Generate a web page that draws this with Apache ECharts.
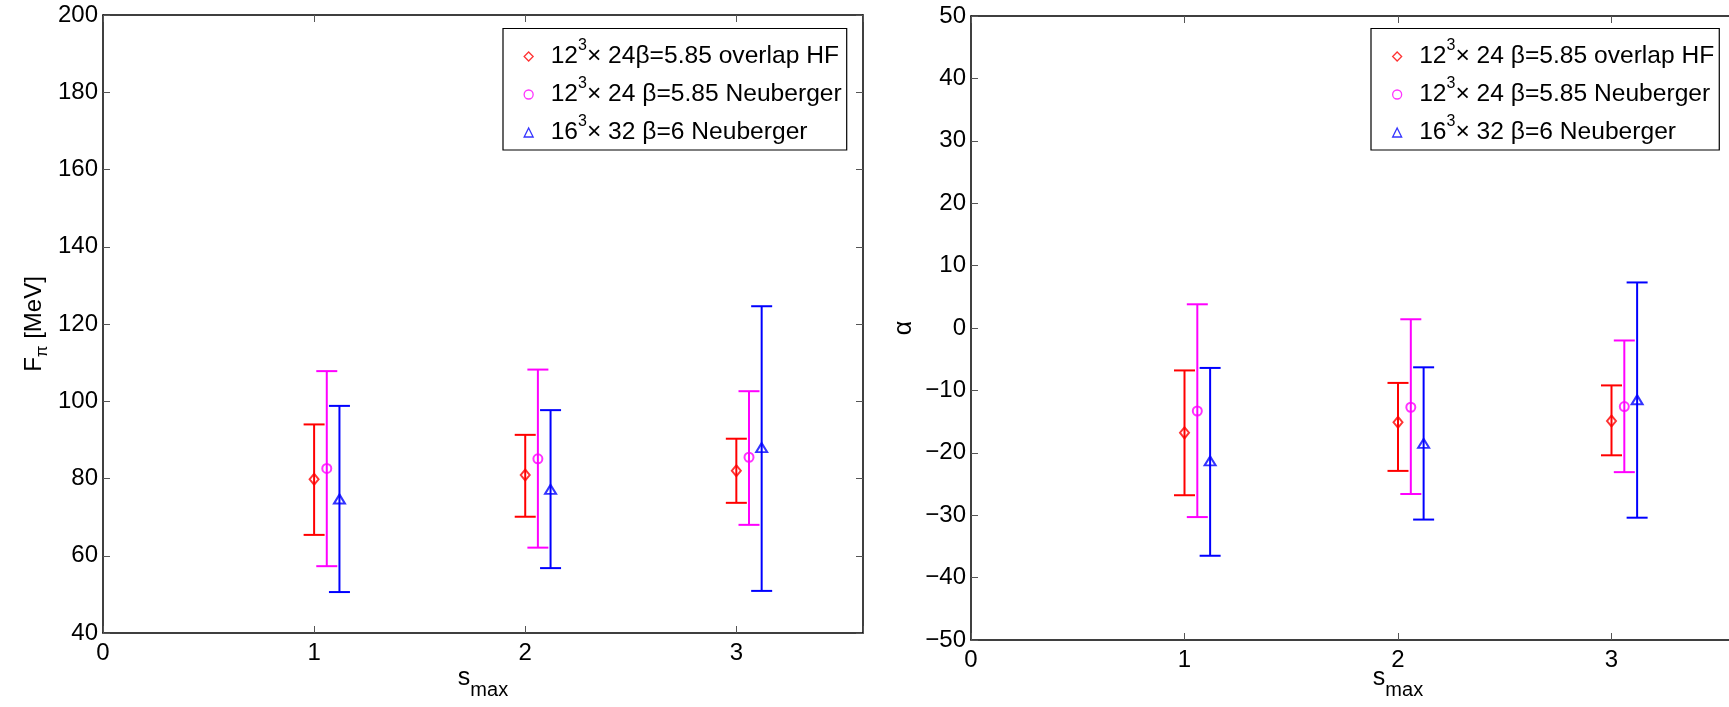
<!DOCTYPE html>
<html>
<head>
<meta charset="utf-8">
<script src="https://cdn.jsdelivr.net/npm/echarts@6/dist/echarts.min.js"></script>
<style>
html,body{margin:0;padding:0;background:#fff;overflow:hidden;width:1729px;height:707px}
#c{width:1830px;height:707px}
</style>
</head>
<body>
<div id="c"></div>
<script>
// ---------- data ----------
const xOverlapHF   = [1, 2, 3];
const xNeuberger12 = [1.06, 2.06, 3.06];
const xNeuberger16 = [1.12, 2.12, 3.12];

// F_pi [MeV]
const fpiOverlapHF      = [79.8, 80.9, 82.0];
const fpiOverlapHFLow   = [65.4, 70.1, 73.7];
const fpiOverlapHFHigh  = [94.0, 91.3, 90.3];
const fpiNeu12          = [82.6, 85.1, 85.5];
const fpiNeu12Low       = [57.3, 62.1, 68.0];
const fpiNeu12High      = [107.8, 108.2, 102.6];
const fpiNeu16          = [74.7, 77.2, 88.0];
const fpiNeu16Low       = [50.6, 56.8, 50.9];
const fpiNeu16High      = [98.8, 97.7, 124.6];

// alpha
const alphaOverlapHF     = [-16.8, -15.1, -14.9];
const alphaOverlapHFLow  = [-26.8, -22.9, -20.4];
const alphaOverlapHFHigh = [-6.8, -8.8, -9.2];
const alphaNeu12         = [-13.3, -12.7, -12.6];
const alphaNeu12Low      = [-30.3, -26.6, -23.1];
const alphaNeu12High     = [3.8, 1.4, -2.0];
const alphaNeu16         = [-21.3, -18.5, -11.5];
const alphaNeu16Low      = [-36.5, -30.7, -30.4];
const alphaNeu16High     = [-6.4, -6.3, 7.3];

// axes
const leftX  = {min: 0, max: 3.6, interval: 1};
const leftY  = {min: 40, max: 200, interval: 20};
const rightX = {min: 0, max: 4, interval: 1};
const rightY = {min: -50, max: 50, interval: 10};

// legend labels (rich text markup)
const legendLeft = {
  L0: '{g| }{n|12}{sup|3}{n|\u00d7 24\u03b2=5.85 overlap HF}',
  L1: '{g| }{n|12}{sup|3}{n|\u00d7 24 \u03b2=5.85 Neuberger}',
  L2: '{g| }{n|16}{sup|3}{n|\u00d7 32 \u03b2=6 Neuberger}'
};
const legendRight = {
  R0: '{g| }{n|12}{sup|3}{n|\u00d7 24 \u03b2=5.85 overlap HF}',
  R1: '{g| }{n|12}{sup|3}{n|\u00d7 24 \u03b2=5.85 Neuberger}',
  R2: '{g| }{n|16}{sup|3}{n|\u00d7 32 \u03b2=6 Neuberger}'
};

// ---------- styling ----------
const FONT = 'Liberation Sans, Arial, Helvetica, sans-serif';
const RED = '#ff0000', MAG = '#ff00ff', BLUE = '#0000ff';
const LW = 2, CAP = 10.5;

function errSeries(xs, v, lo, hi, color, xi, yi) {
  return {
    type: 'custom', xAxisIndex: xi, yAxisIndex: yi, z: 2, silent: true,
    data: xs.map((x, i) => [x, v[i], lo[i], hi[i]]),
    encode: {x: 0, y: [2, 3]},
    renderItem(params, api) {
      const x = api.value(0);
      const a = api.coord([x, api.value(2)]);
      const b = api.coord([x, api.value(3)]);
      const st = {stroke: color, lineWidth: LW};
      return {type: 'group', children: [
        {type: 'line', shape: {x1: a[0], y1: a[1], x2: b[0], y2: b[1]}, style: st},
        {type: 'line', shape: {x1: a[0] - CAP, y1: a[1], x2: a[0] + CAP, y2: a[1]}, style: st},
        {type: 'line', shape: {x1: b[0] - CAP, y1: b[1], x2: b[0] + CAP, y2: b[1]}, style: st}
      ]};
    }
  };
}
function markSeries(name, xs, v, color, symbol, size, xi, yi) {
  return {
    type: 'scatter', name, xAxisIndex: xi, yAxisIndex: yi, z: 3,
    symbol, symbolSize: size,
    data: xs.map((x, i) => [x, v[i]]),
    itemStyle: {color: 'rgba(0,0,0,0)', borderColor: color, borderWidth: 2},
    emphasis: {disabled: true}
  };
}

const minus = v => String(v).replace('-', '\u2212');
const intOnly = v => (Math.abs(v - Math.round(v)) < 1e-9 ? String(v) : '');

const AXLINE = {show: true, onZero: false, lineStyle: {color: '#000', width: 1.5}};
const AXTICK = {show: true, inside: true, length: 7, lineStyle: {color: '#555', width: 1}};

const smaxRich = {
  b: {fontSize: 25, fontFamily: FONT, color: '#000', lineHeight: 44},
  sub: {fontSize: 20, fontFamily: FONT, color: '#000', verticalAlign: 'bottom', lineHeight: 1}
};

function xAxes(gi, cfg, nameGap) {
  return [
    {gridIndex: gi, type: 'value', min: cfg.min, max: cfg.max, interval: cfg.interval, position: 'bottom',
     name: '{b|s}{sub|max}', nameLocation: 'middle', nameGap, nameMoveOverlap: false,
     nameTextStyle: {fontSize: 25, fontFamily: FONT, color: '#000', rich: smaxRich},
     axisLine: AXLINE, axisTick: AXTICK,
     axisLabel: {fontSize: 24, fontFamily: FONT, color: '#000', margin: 8, formatter: intOnly},
     splitLine: {show: false}},
    {gridIndex: gi, type: 'value', min: cfg.min, max: cfg.max, interval: cfg.interval, position: 'top',
     axisLine: AXLINE, axisTick: AXTICK, axisLabel: {show: false}, splitLine: {show: false}}
  ];
}
function yAxes(gi, cfg, name, rich, nameGap) {
  return [
    {gridIndex: gi, type: 'value', min: cfg.min, max: cfg.max, interval: cfg.interval, position: 'left',
     name, nameLocation: 'middle', nameGap, nameRotate: 90, nameMoveOverlap: false,
     nameTextStyle: {fontSize: 24, fontFamily: FONT, color: '#000', rich},
     axisLine: AXLINE, axisTick: AXTICK,
     axisLabel: {fontSize: 24, fontFamily: FONT, color: '#000', margin: 5, formatter: minus},
     splitLine: {show: false}},
    {gridIndex: gi, type: 'value', min: cfg.min, max: cfg.max, interval: cfg.interval, position: 'right',
     axisLine: AXLINE, axisTick: AXTICK, axisLabel: {show: false}, splitLine: {show: false}}
  ];
}

const legendRich = {
  g: {fontSize: 12, width: 12.5, lineHeight: 37},
  n: {fontSize: 24.6, fontFamily: FONT, color: '#000', lineHeight: 37},
  sup: {fontSize: 16, fontFamily: FONT, color: '#000', verticalAlign: 'top', lineHeight: 1}
};
function legendData(names, colors, icons) {
  return names.map((n, i) => ({name: n, icon: icons[i],
    itemStyle: {color: 'rgba(0,0,0,0)', borderColor: colors[i], borderWidth: 1.3}}));
}
function makeLegend(left, top, labels, padLeft) {
  const names = Object.keys(labels);
  return {
    orient: 'vertical', left, top, selectedMode: false,
    data: legendData(names, [RED, MAG, BLUE], ['diamond', 'circle', 'triangle']),
    formatter: n => labels[n],
    itemWidth: 9, itemHeight: 9, itemGap: 7,
    padding: [9.5, 5, 5, padLeft],
    borderColor: '#000', borderWidth: 1.2, backgroundColor: '#fff',
    textStyle: {fontFamily: FONT, color: '#000', rich: legendRich}
  };
}

const nameRichF = {
  n: {fontSize: 24, fontFamily: FONT, color: '#000', lineHeight: 33},
  sub: {fontSize: 17, fontFamily: FONT, color: '#000', verticalAlign: 'bottom', lineHeight: 1}
};
const nameRichA = {
  n: {fontSize: 25, fontFamily: FONT, color: '#000', lineHeight: 25}
};

const option = {
  animation: false,
  backgroundColor: '#fff',
  grid: [
    {left: 103, top: 15, width: 760, height: 618, outerBoundsMode: 'none', containLabel: false},
    {left: 971, top: 16, width: 854, height: 624, outerBoundsMode: 'none', containLabel: false}
  ],
  xAxis: [...xAxes(0, leftX, 23), ...xAxes(1, rightX, 16)],
  yAxis: [...yAxes(0, leftY, '{n|F}{sub|\u03c0}{n| [MeV]}', nameRichF, 52),
          ...yAxes(1, rightY, '{n|\u03b1}', nameRichA, 54)],
  legend: [makeLegend(503, 28.5, legendLeft, 20.5), makeLegend(1371, 28.5, legendRight, 21)],
  series: [
    errSeries(xOverlapHF, fpiOverlapHF, fpiOverlapHFLow, fpiOverlapHFHigh, RED, 0, 0),
    errSeries(xNeuberger12, fpiNeu12, fpiNeu12Low, fpiNeu12High, MAG, 0, 0),
    errSeries(xNeuberger16, fpiNeu16, fpiNeu16Low, fpiNeu16High, BLUE, 0, 0),
    markSeries('L0', xOverlapHF, fpiOverlapHF, RED, 'diamond', [9, 11], 0, 0),
    markSeries('L1', xNeuberger12, fpiNeu12, MAG, 'circle', 9, 0, 0),
    markSeries('L2', xNeuberger16, fpiNeu16, BLUE, 'triangle', [11, 9], 0, 0),

    errSeries(xOverlapHF, alphaOverlapHF, alphaOverlapHFLow, alphaOverlapHFHigh, RED, 2, 2),
    errSeries(xNeuberger12, alphaNeu12, alphaNeu12Low, alphaNeu12High, MAG, 2, 2),
    errSeries(xNeuberger16, alphaNeu16, alphaNeu16Low, alphaNeu16High, BLUE, 2, 2),
    markSeries('R0', xOverlapHF, alphaOverlapHF, RED, 'diamond', [9, 11], 2, 2),
    markSeries('R1', xNeuberger12, alphaNeu12, MAG, 'circle', 9, 2, 2),
    markSeries('R2', xNeuberger16, alphaNeu16, BLUE, 'triangle', [11, 9], 2, 2)
  ]
};

const chart = echarts.init(document.getElementById('c'), null, {renderer: 'canvas'});
chart.setOption(option);
</script>
</body>
</html>
